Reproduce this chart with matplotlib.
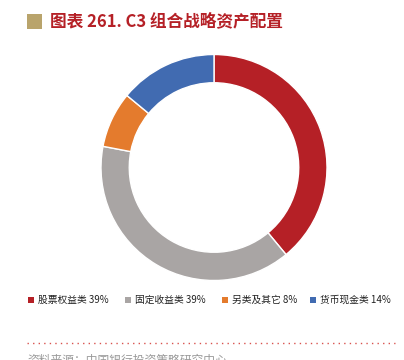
import matplotlib
matplotlib.use("Agg")
import matplotlib.pyplot as plt
from matplotlib.patches import Rectangle
from matplotlib.lines import Line2D

plt.rcParams['font.family'] = ['Noto Sans CJK SC', 'DejaVu Sans']

categories = ["股票权益类", "固定收益类", "另类及其它", "货币现金类"]
values = [39, 39, 8, 14]
colors = ["#b52026", "#a9a5a4", "#e47b2d", "#416bb1"]
title = "图表 261. C3 组合战略资产配置"
source = "资料来源：中国银行投资策略研究中心"

W, H = 404, 360
fig = plt.figure(figsize=(W / 100, H / 100), dpi=100)

# donut
cx, cy, R = 214, 167.5, 113
ax = fig.add_axes([(cx - R) / W, 1 - (cy + R) / H, 2 * R / W, 2 * R / H])
ax.pie(values, colors=colors, startangle=90, counterclock=False,
       wedgeprops=dict(width=0.25, edgecolor="white", linewidth=1.0))
ax.set_aspect("equal")
ax.set_xlim(-1, 1)
ax.set_ylim(-1, 1)
ax.axis("off")

# title
fig.patches.append(Rectangle((27 / W, 1 - 29 / H), 15 / W, 15 / H,
                             transform=fig.transFigure, facecolor="#b9a46c",
                             edgecolor="none"))
fig.text(50 / W, 1 - 21.5 / H, title, color="#b52026", fontsize=12,
         fontweight="bold", va="center", ha="left")

# legend
xs = [28, 125, 222, 310]
ly = 300
for x, c, cat, v in zip(xs, colors, categories, values):
    fig.patches.append(Rectangle((x / W, 1 - (ly + 3) / H), 6 / W, 6 / H,
                                 transform=fig.transFigure, facecolor=c,
                                 edgecolor="none"))
    fig.text((x + 10) / W, 1 - ly / H, f"{cat} {v}%", fontsize=7,
             color="#222222", va="center", ha="left")

# dotted line
fig.lines.append(Line2D([27 / W, 395 / W], [1 - 343 / H, 1 - 343 / H],
                        transform=fig.transFigure, color="#d9534f",
                        linestyle=(0, (1, 3)), linewidth=1.0))

# source (cut off at bottom, as in the reference)
fig.text(27 / W, 1 - 354 / H, source, fontsize=8.5, color="#999999",
         va="top", ha="left")

fig.savefig("out.png", dpi=100)
